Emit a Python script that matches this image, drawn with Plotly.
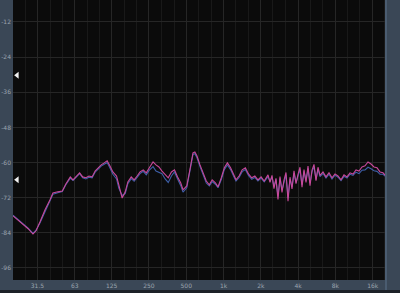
import plotly.graph_objects as go

freq_hz = [20, 21.9, 24.1, 26.5, 29.0, 30.7, 33.0, 36.2, 39.7, 42, 46, 50, 53.4, 58, 61, 63, 66.7, 69, 73, 77.5,
           82, 87, 92, 97.5, 103, 109, 115, 121, 128, 137, 143, 152, 161, 169, 180, 190, 201, 212, 225, 238,
           252, 270, 285, 301, 319, 338, 358, 380, 402, 426, 451, 471, 505, 535, 555, 567, 587, 610, 646, 685,
           726, 768, 810, 860, 903, 960, 1015, 1075, 1140, 1210, 1261, 1335, 1415, 1500, 1590, 1690, 1790, 1895, 2010, 2130,
           2203, 2286, 2372, 2462, 2554, 2651, 2752, 2856, 2965, 3077, 3194, 3315, 3440, 3570, 3706, 3846, 3992, 4143, 4300, 4463,
           4632, 4807, 4989, 5178, 5374, 5577, 5788, 6008, 6352, 6715, 7100, 7507, 7937, 8394, 8876, 9385, 9920, 10492, 11092, 11730,
           12402, 13114, 13864, 14656, 15500, 16388, 17330, 18320, 19372, 20480]

pink_db = [-78.2, -79.6, -80.9, -82.6, -84.4, -83.3, -80.3, -76.2, -72.8, -70.4, -70.0, -69.7, -67.3, -64.9, -65.9, -65.2, -63.9, -63.5, -64.9, -65.2,
           -64.6, -64.9, -62.9, -61.8, -60.8, -60.1, -59.4, -61.1, -63.2, -64.6, -67.6, -72.1, -70.0, -66.6, -64.9, -65.9, -64.6, -63.2, -62.5, -63.5,
           -61.8, -59.8, -60.8, -61.5, -62.9, -64.2, -65.2, -63.2, -62.5, -64.9, -66.9, -69.3, -68.0, -62.5, -59.1, -56.7, -56.4, -57.7, -60.8, -63.9,
           -66.3, -67.6, -65.9, -66.9, -68.3, -65.2, -61.8, -60.1, -61.8, -64.2, -65.9, -64.6, -62.5, -61.8, -63.9, -65.2, -64.6, -65.9, -64.9, -66.3,
           -65.2, -64.2, -66.8, -64.4, -68.9, -65.4, -72.6, -64.8, -70.2, -66.0, -63.4, -73.2, -65.0, -69.0, -62.8, -67.2, -64.0, -61.6, -68.4, -62.4,
           -66.8, -61.2, -67.9, -62.6, -60.6, -66.2, -61.6, -64.4, -63.2, -64.9, -63.5, -65.2, -63.9, -64.6, -65.9, -64.2, -64.9, -63.5, -63.9, -62.5,
           -62.9, -61.5, -61.1, -59.8, -60.5, -61.5, -61.8, -63.2, -63.5, -64.6]

blue_db = [-78.0, -79.4, -80.8, -82.4, -84.2, -83.1, -80.6, -76.6, -73.2, -70.8, -70.3, -69.9, -67.6, -65.3, -66.1, -65.5, -64.2, -63.8, -65.2, -65.6,
           -65.0, -65.2, -63.3, -62.2, -61.2, -60.6, -60.0, -61.8, -64.0, -65.6, -68.8, -71.2, -70.6, -67.2, -65.5, -66.4, -65.0, -63.8, -63.0, -64.2,
           -62.6, -61.4, -62.9, -63.4, -63.8, -65.6, -66.8, -64.6, -63.2, -65.6, -67.8, -70.1, -68.6, -63.0, -59.6, -57.2, -57.0, -58.3, -61.4, -64.6,
           -67.0, -68.0, -66.5, -67.4, -68.6, -65.8, -62.4, -60.8, -62.4, -64.8, -66.3, -65.1, -63.1, -62.4, -64.4, -65.7, -65.1, -66.3, -65.3, -66.6,
           -65.6, -64.8, -66.4, -64.9, -68.2, -65.8, -71.6, -65.4, -69.4, -66.4, -64.2, -72.0, -65.6, -68.4, -63.6, -66.8, -64.6, -62.4, -67.6, -63.0,
           -66.2, -62.0, -67.0, -63.2, -61.4, -65.8, -62.2, -64.8, -63.7, -65.3, -64.0, -65.6, -64.3, -65.0, -66.2, -64.7, -65.3, -64.0, -64.4, -63.3,
           -63.8, -62.6, -62.5, -61.6, -62.1, -62.8, -63.0, -64.0, -64.0, -64.9]

x_tick_vals = [31.5, 63, 125, 250, 500, 1000, 2000, 4000, 8000, 16000]
x_tick_text = ["31.5", "63", "125", "250", "500", "1k", "2k", "4k", "8k", "16k"]
third_octave_vals = [20, 25, 40, 50, 80, 100, 160, 200, 315, 400, 630, 800, 1250, 1600,
                     2500, 3150, 5000, 6300, 10000, 12500, 20000]
y_tick_vals = [-12, -24, -36, -48, -60, -72, -84, -96]
y_tick_text = ["-12", "-24", "-36", "-48", "-60", "-72", "-84", "-96"]
marker_freq = [21.6, 21.6]
marker_levels = [-30.2, -65.9]

fig = go.Figure()
fig.add_trace(go.Scatter(x=freq_hz, y=blue_db, mode="lines",
                         line=dict(color="#3d5fa8", width=1.1), hoverinfo="skip"))
fig.add_trace(go.Scatter(x=freq_hz, y=pink_db, mode="lines",
                         line=dict(color="#c8489a", width=1.1), hoverinfo="skip"))
fig.add_trace(go.Scatter(x=marker_freq, y=marker_levels, mode="markers",
                         marker=dict(symbol="triangle-left", size=6, color="#f2f2f2"),
                         hoverinfo="skip"))

fig.update_layout(
    width=400, height=293,
    margin=dict(l=13, r=14, t=0, b=13),
    paper_bgcolor="#3a4756",
    plot_bgcolor="#0b0b0b",
    showlegend=False,
    font=dict(family="DejaVu Sans", size=6, color="#9aa4ae"),
    xaxis=dict(type="log", range=[1.30103, 4.3113], tickvals=x_tick_vals, ticktext=x_tick_text,
               showgrid=True, gridcolor="#262626", gridwidth=1, zeroline=False,
               ticks="", showline=False, ticklabelstandoff=1,
               minor=dict(tickvals=third_octave_vals, showgrid=True, gridcolor="#191919", ticks="")),
    yaxis=dict(range=[-100.1, -4.5], tickvals=y_tick_vals, ticktext=y_tick_text,
               showgrid=True, gridcolor="#262626", gridwidth=1, zeroline=False,
               ticks="", showline=False, ticklabelstandoff=1),
    shapes=[
        dict(type="rect", xref="paper", yref="paper", x0=-0.1, x1=1.1, y0=-13/280, y1=-10/280,
             fillcolor="#1c2128", line=dict(width=0), layer="below"),
        dict(type="line", xref="paper", yref="paper", x0=1.0, x1=1.0, y0=-10/280, y1=1,
             line=dict(color="#4a5c70", width=2)),
    ],
)

fig.write_html("out.html")
